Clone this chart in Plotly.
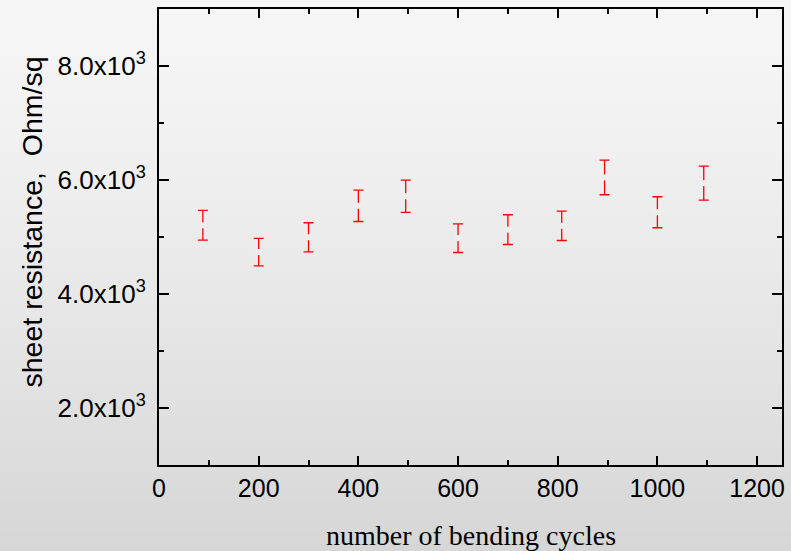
import plotly.graph_objects as go

# ---- data ----
cycles = [88, 200, 300, 400, 495, 600, 700, 808, 894, 1000, 1093]
resistance = [5205, 4735, 4995, 5547, 5715, 4980, 5129, 5196, 6045, 5434, 5945]
resistance_err = [261, 240, 255, 275, 284, 252, 261, 257, 304, 272, 298]

y_tickvals = [2000, 4000, 6000, 8000]
y_ticktext = ["2.0x10<sup>3</sup>", "4.0x10<sup>3</sup>", "6.0x10<sup>3</sup>", "8.0x10<sup>3</sup>"]
x_tickvals = [0, 200, 400, 600, 800, 1000, 1200]

W, H = 791, 551
ML, MR, MT, MB = 159, 9, 9, 86
PW, PH = W - ML - MR, H - MT - MB

fig = go.Figure()

fig.add_trace(go.Scatter(
    x=cycles, y=resistance, mode="markers",
    marker=dict(symbol="square", size=6, color="#eeeeee", line=dict(width=0)),
    error_y=dict(type="data", array=resistance_err, visible=True,
                 color="#ff0000", thickness=1.3, width=5),
    showlegend=False, hoverinfo="skip",
))

# vertical background gradient via bands
shapes = []
n = 80
top_c, bot_c = 246, 214
for i in range(n):
    py0 = i * H / n
    py1 = (i + 1) * H / n
    t = (py0 + py1) / 2 / H
    c = round(top_c + (bot_c - top_c) * t ** 1.3)
    shapes.append(dict(
        type="rect", xref="paper", yref="paper", layer="below",
        x0=-ML / PW - 0.01, x1=(W - ML) / PW + 0.01,
        y0=(H - MB - py1) / PH, y1=(H - MB - py0) / PH + 0.002,
        fillcolor=f"rgb({c},{c},{c})", line=dict(width=0),
    ))

font_sans = "Liberation Sans, Arial, Helvetica, sans-serif"

fig.update_layout(
    width=W, height=H,
    margin=dict(l=ML, r=MR, t=MT, b=MB, autoexpand=False),
    paper_bgcolor="rgb(230,230,230)",
    plot_bgcolor="rgba(0,0,0,0)",
    shapes=shapes,
    font=dict(family=font_sans, size=25, color="black"),
    xaxis=dict(
        range=[0, 1250], tickvals=x_tickvals, ticks="inside", ticklen=9, tickwidth=1.5,
        tickcolor="black", showline=True, linecolor="black", linewidth=2,
        mirror="allticks", showgrid=False, zeroline=False, automargin=False,
        minor=dict(dtick=100, ticks="inside", ticklen=5, tickwidth=1.5, tickcolor="black", showgrid=False),
        tickfont=dict(family=font_sans, size=25),
    ),
    yaxis=dict(
        range=[1000, 9000], tickvals=y_tickvals, ticktext=y_ticktext,
        ticks="inside", ticklen=10, tickwidth=1.5,
        tickcolor="black", showline=True, linecolor="black", linewidth=2,
        mirror="allticks", showgrid=False, zeroline=False, automargin=False,
        minor=dict(dtick=1000, ticks="inside", ticklen=5, tickwidth=1.5, tickcolor="black", showgrid=False),
        tickfont=dict(family=font_sans, size=26),
        ticklabelstandoff=6,
    ),
    annotations=[
        dict(text="number of bending cycles", xref="paper", yref="paper",
             x=0.5, y=(H - MB - 535) / PH, xanchor="center", yanchor="middle",
             showarrow=False, font=dict(family="Liberation Serif, Times New Roman, serif", size=28)),
        dict(text="sheet resistance,  Ohm/sq", xref="paper", yref="paper",
             x=(31 - ML) / PW, y=(H - MB - 222.5) / PH, xanchor="center", yanchor="middle",
             textangle=-90, showarrow=False, font=dict(family=font_sans, size=28.5)),
    ],
)

fig.write_html(
    "out.html",
    config={"displayModeBar": False},
    post_script="document.body.style.margin='0';document.body.style.overflow='hidden';",
)
